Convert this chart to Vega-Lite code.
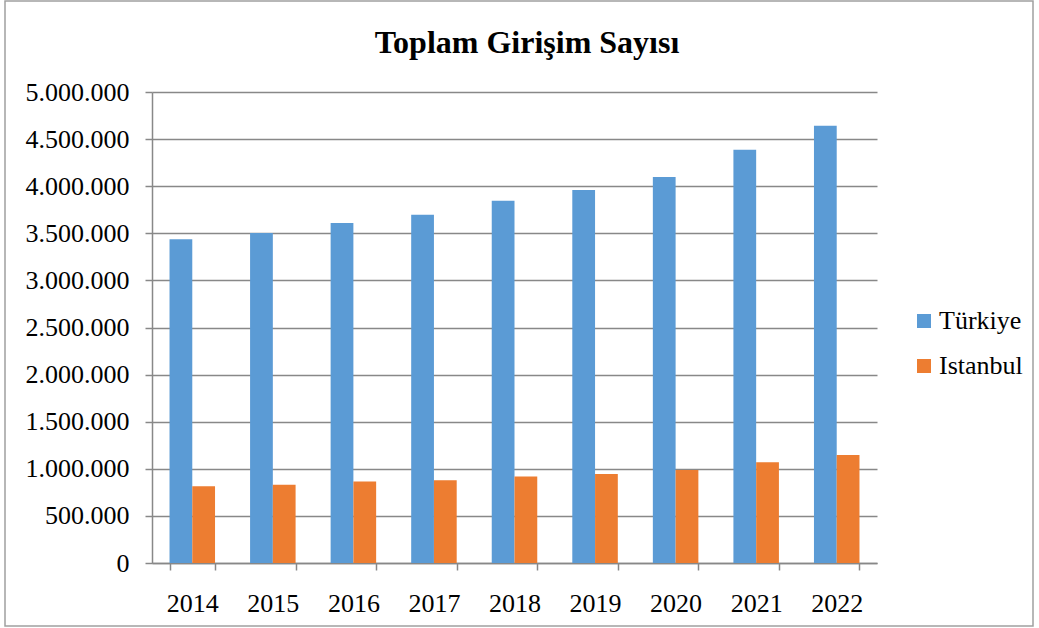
{
  "$schema": "https://vega.github.io/schema/vega-lite/v6.json",
  "autosize": "none",
  "width": 1028,
  "height": 625,
  "padding": {"left": 5, "top": 1, "right": 6, "bottom": 2},
  "background": "white",
  "title": {
    "text": "Toplam Girişim Sayısı",
    "font": "Liberation Serif",
    "fontSize": 32,
    "fontWeight": "bold",
    "color": "#000000",
    "anchor": "middle",
    "frame": "group",
    "baseline": "alphabetic",
    "offset": -84,
    "dx": 8
  },
  "data": {
    "values": [
      {"yil": "2014", "bolge": "Türkiye", "deger": 3436000},
      {"yil": "2015", "bolge": "Türkiye", "deger": 3503000},
      {"yil": "2016", "bolge": "Türkiye", "deger": 3609000},
      {"yil": "2017", "bolge": "Türkiye", "deger": 3698000},
      {"yil": "2018", "bolge": "Türkiye", "deger": 3846000},
      {"yil": "2019", "bolge": "Türkiye", "deger": 3960000},
      {"yil": "2020", "bolge": "Türkiye", "deger": 4098000},
      {"yil": "2021", "bolge": "Türkiye", "deger": 4388000},
      {"yil": "2022", "bolge": "Türkiye", "deger": 4642000},
      {"yil": "2014", "bolge": "Istanbul", "deger": 814000},
      {"yil": "2015", "bolge": "Istanbul", "deger": 832000},
      {"yil": "2016", "bolge": "Istanbul", "deger": 864000},
      {"yil": "2017", "bolge": "Istanbul", "deger": 878000},
      {"yil": "2018", "bolge": "Istanbul", "deger": 917000},
      {"yil": "2019", "bolge": "Istanbul", "deger": 945000},
      {"yil": "2020", "bolge": "Istanbul", "deger": 988000},
      {"yil": "2021", "bolge": "Istanbul", "deger": 1069000},
      {"yil": "2022", "bolge": "Istanbul", "deger": 1147000}
    ]
  },
  "mark": {"type": "bar"},
  "encoding": {
    "x": {
      "field": "yil",
      "type": "nominal",
      "title": null,
      "scale": {"range": [147, 872], "paddingInner": 0.435, "paddingOuter": 0.2175},
      "axis": {
        "offset": -63,
        "labelAngle": 0,
        "tickBand": "extent",
        "labelFont": "Liberation Serif",
        "labelFontSize": 26,
        "labelColor": "#000000",
        "labelPadding": 20,
        "tickSize": 7,
        "tickColor": "#888888",
        "tickWidth": 1.5,
        "domainColor": "#888888",
        "domainWidth": 1.5,
        "grid": false
      }
    },
    "xOffset": {
      "field": "bolge",
      "type": "nominal",
      "sort": ["Türkiye", "Istanbul"],
      "scale": {"paddingInner": 0, "paddingOuter": 0}
    },
    "y": {
      "field": "deger",
      "type": "quantitative",
      "title": null,
      "scale": {"domain": [0, 5000000], "nice": false, "range": [562, 91]},
      "axis": {
        "offset": -147,
        "values": [0, 500000, 1000000, 1500000, 2000000, 2500000, 3000000, 3500000, 4000000, 4500000, 5000000],
        "format": ",d",
        "labelFont": "Liberation Serif",
        "labelFontSize": 26,
        "labelColor": "#000000",
        "labelPadding": 16,
        "tickSize": 7,
        "tickColor": "#888888",
        "tickWidth": 1.5,
        "domainColor": "#888888",
        "domainWidth": 1.5,
        "grid": true,
        "gridColor": "#888888",
        "gridWidth": 1.5,
        "gridOpacity": 1
      }
    },
    "color": {
      "field": "bolge",
      "type": "nominal",
      "sort": ["Türkiye", "Istanbul"],
      "scale": {"domain": ["Türkiye", "Istanbul"], "range": ["#5B9BD5", "#ED7D31"]},
      "legend": {
        "title": null,
        "orient": "none",
        "legendX": 906,
        "legendY": 307,
        "padding": 0,
        "symbolType": "square",
        "symbolSize": 196,
        "symbolStrokeWidth": 0,
        "symbolOpacity": 1,
        "labelFont": "Liberation Serif",
        "labelFontSize": 26,
        "labelColor": "#000000",
        "labelOffset": 2,
        "rowPadding": 19
      }
    }
  },
  "config": {
    "locale": {
      "number": {"decimal": ",", "thousands": ".", "grouping": [3], "currency": ["", " TL"]}
    },
    "view": {"stroke": "#A0A0A0", "strokeWidth": 1.5},
    "axis": {"labelOverlap": false}
  }
}
